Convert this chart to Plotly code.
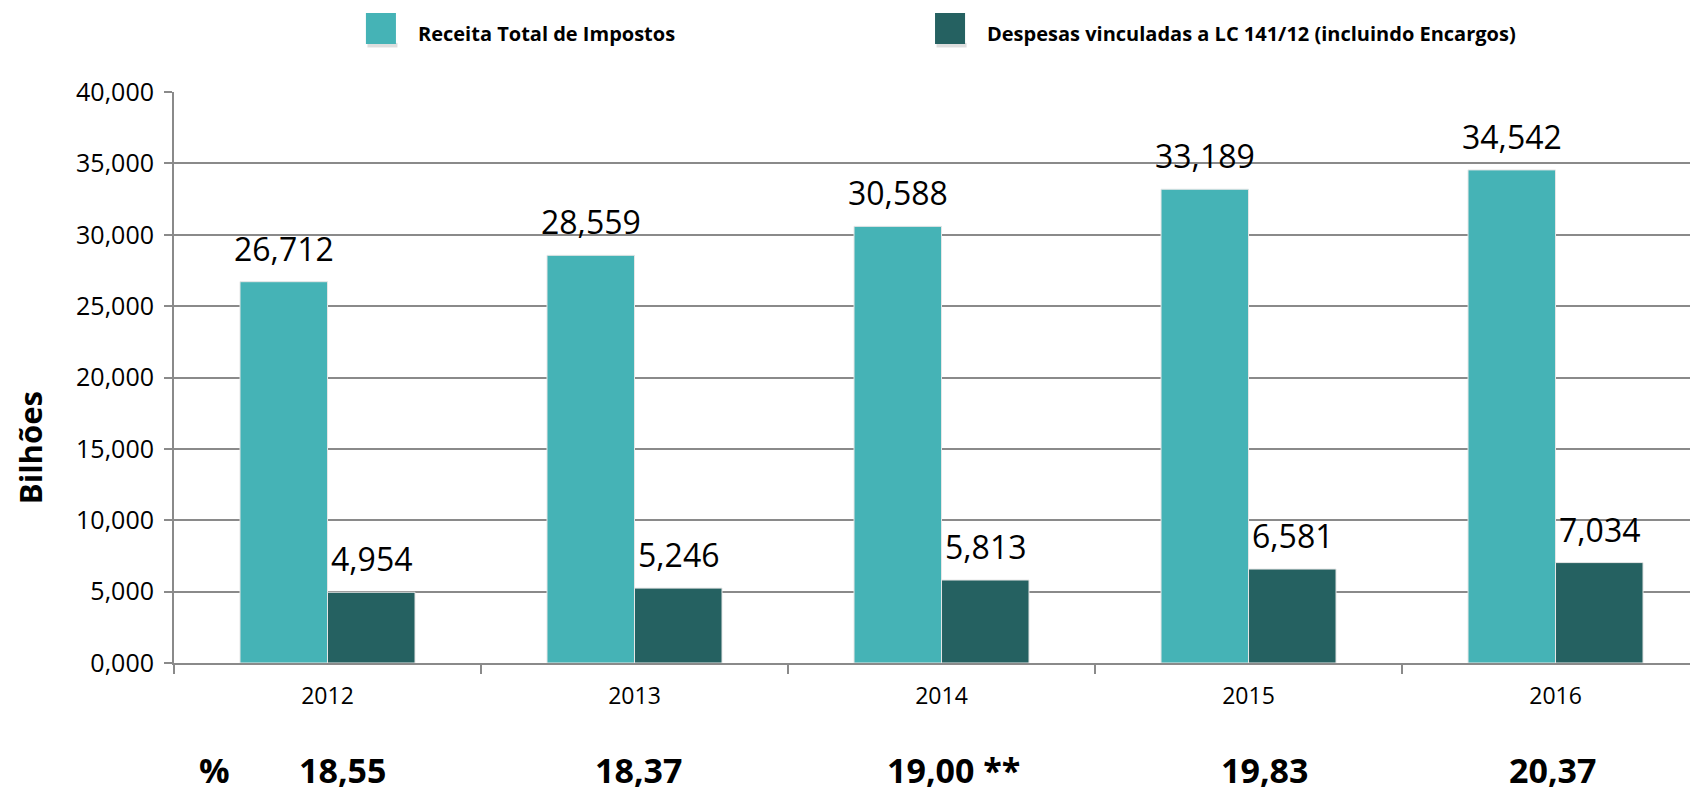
import plotly.graph_objects as go

anos = ["2012", "2013", "2014", "2015", "2016"]
receita = [26.712, 28.559, 30.588, 33.189, 34.542]
despesas = [4.954, 5.246, 5.813, 6.581, 7.034]
percentuais = ["18,55", "18,37", "19,00 **", "19,83", "20,37"]

nome_receita = "Receita Total de Impostos"
nome_despesas = "Despesas vinculadas a LC 141/12 (incluindo Encargos)"

cor_receita = "#45b3b6"
cor_despesas = "#256161"
cinza = "#8a8a8a"

# a página tem 8px de margem no body, por isso a figura é 16px menor
W, H = 1682, 787
ML, MT, MB = 166, 84, 132
BARGAP = 0.43
meia = (1 - BARGAP) / 4  # deslocamento do centro de cada barra no grupo

fig = go.Figure()

fig.add_trace(go.Bar(
    x=anos, y=receita, name=nome_receita,
    marker=dict(color=cor_receita, line=dict(color="#e6e6e6", width=1)),
))
fig.add_trace(go.Bar(
    x=anos, y=despesas, name=nome_despesas,
    marker=dict(color=cor_despesas, line=dict(color="#e6e6e6", width=1)),
))

fig.update_layout(
    width=W, height=H,
    margin=dict(l=ML, r=0, t=MT, b=MB, autoexpand=False),
    plot_bgcolor="white", paper_bgcolor="white",
    barmode="group", bargap=BARGAP, bargroupgap=0,
    separators=",.",
    showlegend=False,
    font=dict(family="Open Sans", color="black"),
)

fig.update_xaxes(
    type="category", range=[-0.5, 4.438],
    showline=True, linecolor=cinza, linewidth=2,
    ticks="outside", tickson="boundaries", ticklen=9, tickcolor=cinza, tickwidth=1.5,
    tickfont=dict(family="Open Sans", size=23, color="black"),
    ticklabelstandoff=11,
)
fig.update_yaxes(
    range=[0, 40], dtick=5, tickformat=".3f",
    showgrid=True, gridcolor=cinza, gridwidth=2,
    showline=True, linecolor=cinza, linewidth=2,
    ticks="outside", ticklen=8, tickcolor=cinza, tickwidth=2,
    tickfont=dict(family="Open Sans", size=25, color="black"),
    ticklabelstandoff=5,
    zeroline=False,
)

# rótulos de valor acima das barras
for i, (r, d) in enumerate(zip(receita, despesas)):
    for xv, yv in [(i - meia, r), (i + meia, d)]:
        fig.add_annotation(
            x=xv, y=yv, xref="x", yref="y", text=f"{yv:.3f}".replace(".", ","),
            showarrow=False, xanchor="center", yanchor="bottom", yshift=10,
            font=dict(family="Open Sans", size=32, color="black"),
        )

# legenda manual (quadrados grandes)
legenda = [(nome_receita, cor_receita, 0.1266), (nome_despesas, cor_despesas, 0.502)]
for nome, cor, x0 in legenda:
    fig.add_shape(type="rect", xref="paper", yref="paper",
                  x0=x0 + 0.001, x1=x0 + 0.0208, y0=1.078, y1=1.086,
                  fillcolor="#c8c8c8", line_width=0, opacity=0.6)
    fig.add_shape(type="rect", xref="paper", yref="paper",
                  x0=x0, x1=x0 + 0.0198, y0=1.084, y1=1.1384,
                  fillcolor=cor, line_width=0)
    fig.add_annotation(
        text="<b>" + nome + "</b>", showarrow=False, xref="paper", yref="paper",
        x=x0 + 0.033, y=1.1016, xanchor="left", yanchor="middle",
        font=dict(family="Open Sans", size=20, color="black"),
    )

fig.add_annotation(
    text="<b>Bilhões</b>", textangle=-90, showarrow=False,
    xref="paper", yref="paper", x=-0.095, y=0.378,
    xanchor="center", yanchor="middle",
    font=dict(family="Open Sans", size=31, color="black"),
)

Y_PCT = -0.1874
fig.add_annotation(
    text="<b>%</b>", showarrow=False, xref="paper", yref="paper",
    x=0.0264, y=Y_PCT, xanchor="center", yanchor="middle",
    font=dict(family="Open Sans", size=34, color="black"),
)
desloc_pct = [15, 4, 12, 16, -3]
for i, p in enumerate(percentuais):
    fig.add_annotation(
        text="<b>" + p + "</b>", showarrow=False, xref="x", yref="paper",
        x=i, y=Y_PCT, xanchor="center", yanchor="middle", xshift=desloc_pct[i],
        font=dict(family="Open Sans", size=34, color="black"),
    )

fig.write_html("out.html")
